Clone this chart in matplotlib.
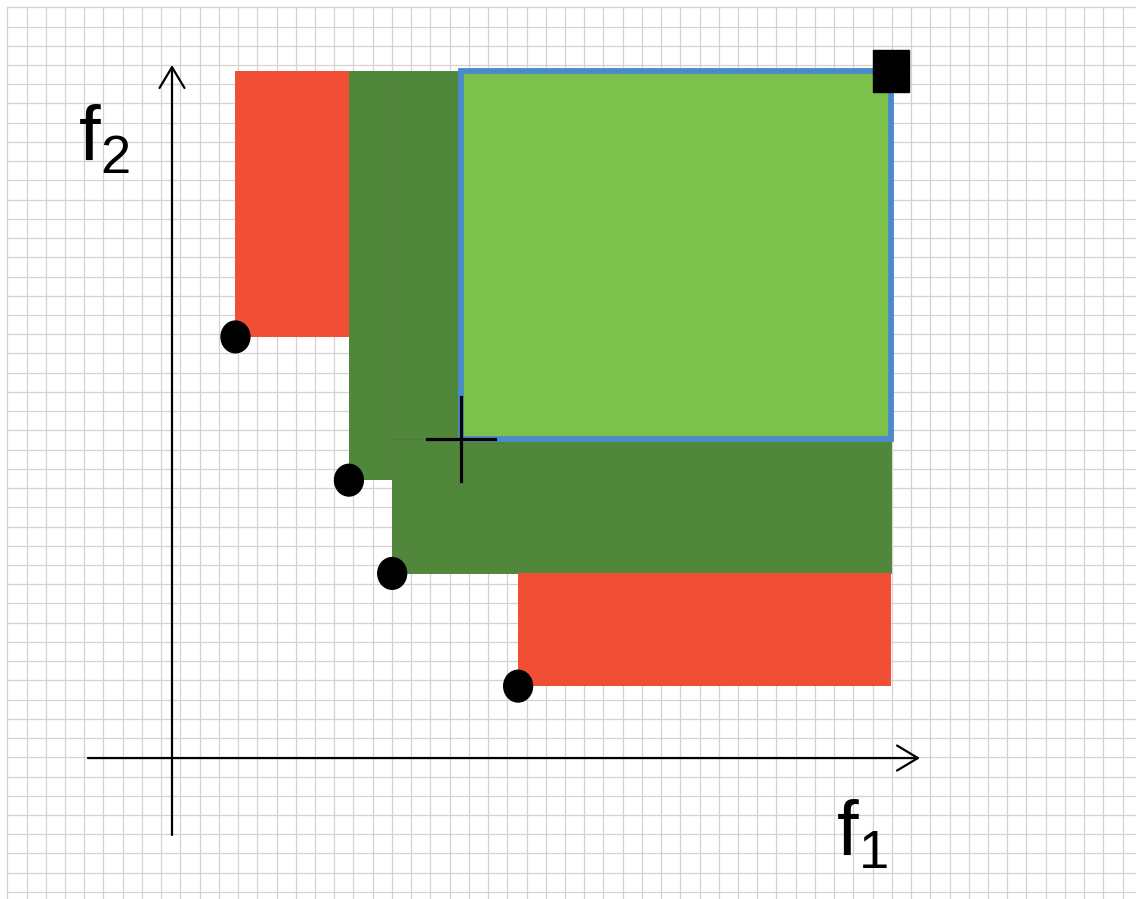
import matplotlib
matplotlib.use("Agg")
import matplotlib.pyplot as plt
from matplotlib.patches import Rectangle, Ellipse

plt.rcParams['font.family'] = ['Liberation Sans', 'DejaVu Sans']

# data (grid units, origin at the axis crossing)
points_f1 = [3.3, 9.2, 11.45, 18.0]
points_f2 = [21.9, 14.45, 9.6, 3.74]
ref_point = (37.39, 35.75)
candidate = (15.05, 16.6)

red = '#F04F36'
dark_green = '#51873B'
light_green = '#7CC14A'
blue = '#4A8BCB'

fig = plt.figure(figsize=(11.36, 8.99), dpi=100)
ax = fig.add_axes([0, 0, 1, 1])
ax.set_xlim(-8.944, 50.13)
ax.set_ylim(-7.33, 39.42)
ax.axis('off')

# graph paper
for k in range(59):
    ax.plot([k - 8.565, k - 8.565], [-7.33, 39.04], color='#D9D0D0', lw=0.9, zorder=0)
for k in range(47):
    ax.plot([-8.565, 50.13], [39.04 - k, 39.04 - k], color='#D9D0D0', lw=0.9, zorder=0)

x1, x2, x3, x4 = points_f1
y1, y2, y3, y4 = points_f2
rx, ry = ref_point
cx, cy = candidate

def box(x0, y0, xa, ya, color, **kw):
    ax.add_patch(Rectangle((x0, y0), xa - x0, ya - y0, facecolor=color, zorder=2, **kw))

box(x1, y1, x2, ry, red)
box(x2, y2, x3, ry, dark_green)
box(x3, cy, cx, ry, dark_green, edgecolor='#4A7D36', lw=0.6)
box(x3, y3, rx, cy, dark_green, edgecolor='#4A7D36', lw=0.6)
box(x4, y4, rx, y3, red)
box(cx, cy, rx, ry, light_green, edgecolor=blue, lw=4.2)

# axes with open arrow heads
ax.annotate('', xy=(0, 36.04), xytext=(0, -4.0),
            arrowprops=dict(arrowstyle='->,head_length=0.5,head_width=0.3', lw=1.6,
                            color='black', mutation_scale=30, shrinkA=0, shrinkB=0), zorder=1)
ax.annotate('', xy=(38.9, 0), xytext=(-4.37, 0),
            arrowprops=dict(arrowstyle='->,head_length=0.5,head_width=0.3', lw=1.6,
                            color='black', mutation_scale=30, shrinkA=0, shrinkB=0), zorder=1)

ax.text(-4.89, 31.0, r'$\mathregular{f_2}$', fontsize=56, ha='left', va='baseline')
ax.text(34.53, -5.15, r'$\mathregular{f_1}$', fontsize=56, ha='left', va='baseline')

# points
for px, py in zip(points_f1, points_f2):
    ax.add_patch(Ellipse((px, py), 1.5, 1.65, color='black', zorder=4))

# reference point
ax.add_patch(Rectangle((rx - 0.92, ry - 1.09), 1.84, 2.18, color='black', zorder=4))

# candidate cross
ax.plot([cx - 1.77, cx + 1.77], [cy, cy], color='black', lw=2.3, zorder=5)
ax.plot([cx, cx], [cy - 2.18, cy + 2.18], color='black', lw=2.3, zorder=5)

fig.savefig('out.png', dpi=100, facecolor='white')
